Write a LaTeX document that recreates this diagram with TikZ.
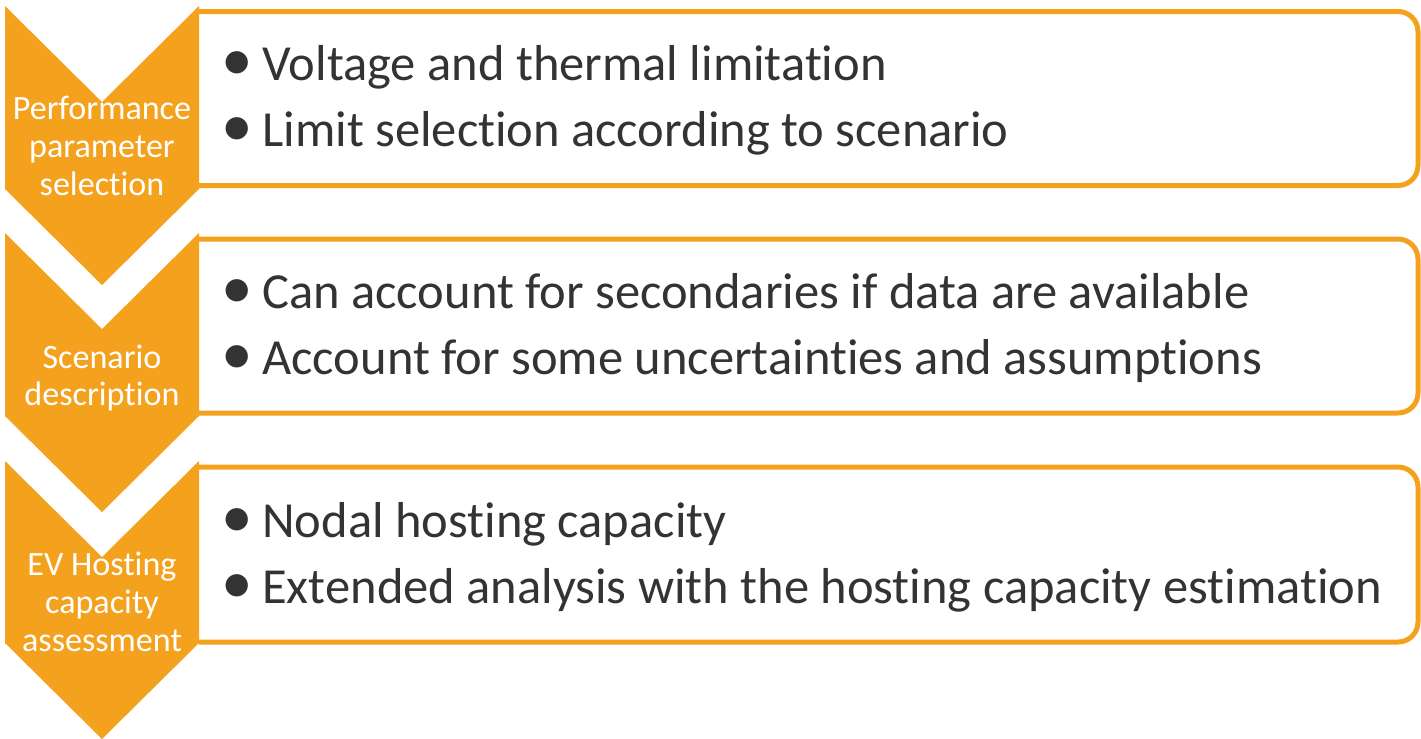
\documentclass[tikz,border=0pt]{standalone}
\usepackage{graphicx}
\usepackage{fontspec}
\setmainfont[Ligatures=NoCommon]{Carlito}
\usetikzlibrary{positioning}
\definecolor{chevorange}{HTML}{F4A11D}
\definecolor{itemgray}{HTML}{333333}
\newcommand{\itembullet}{\makebox[0.66cm][l]{\hspace{-0.16cm}\scalebox{1.25}{\textbullet}}}
\begin{document}
\begin{tikzpicture}[x=0.02cm, y=-0.02cm,
chev/.style={fill=chevorange},
panel/.style={draw=chevorange, line width=0.1cm, rounded corners=0.4cm},
steplabel/.style={text=white, align=center, inner sep=0, font=\fontsize{19.4}{21.6}\selectfont},
item/.style={anchor=base west, inner sep=0, text=itemgray, font=\fontsize{28.75}{35}\selectfont}]
\useasboundingbox (0,0) rectangle (1421,738);
% panels behind the chevrons
\draw[panel] (199,11.5) -- (1418,11.5) -- (1418,185.5) -- (199,185.5);
\draw[panel] (199,239) -- (1418,239) -- (1418,413) -- (199,413);
\draw[panel] (199,467) -- (1418,467) -- (1418,642) -- (199,642);
% chevrons
\fill[chev] (5,6) -- (102,102) -- (199,6) -- (199,189) -- (102,285) -- (5,189) -- cycle;
\fill[chev] (5,233) -- (102,329) -- (199,233) -- (199,416) -- (102,512) -- (5,416) -- cycle;
\fill[chev] (5,461) -- (102,557) -- (199,461) -- (199,643) -- (102,739) -- (5,643) -- cycle;
\node[steplabel] (perfsel) at (102,146) {Performance\\parameter\\selection};
\node[steplabel] (scendesc) at (102,378) {Scenario\\description};
\node[steplabel] (evhc) at (102,602) {EV Hosting\\capacity\\assessment};
% bullet items
\node[item] (volt) at (229,80) {\itembullet Voltage and thermal limitation};
\node[item] (limit) at (229,146) {\itembullet Limit selection according to scenario};
\node[item] (secon) at (229,308) {\itembullet Can account for secondaries if data are available};
\node[item] (uncert) at (229,374) {\itembullet Account for some uncertainties and assumptions};
\node[item] (nodal) at (229,537) {\itembullet Nodal hosting capacity};
\node[item] (extend) at (229,603) {\itembullet Extended analysis with the hosting capacity estimation};
\end{tikzpicture}
\end{document}
